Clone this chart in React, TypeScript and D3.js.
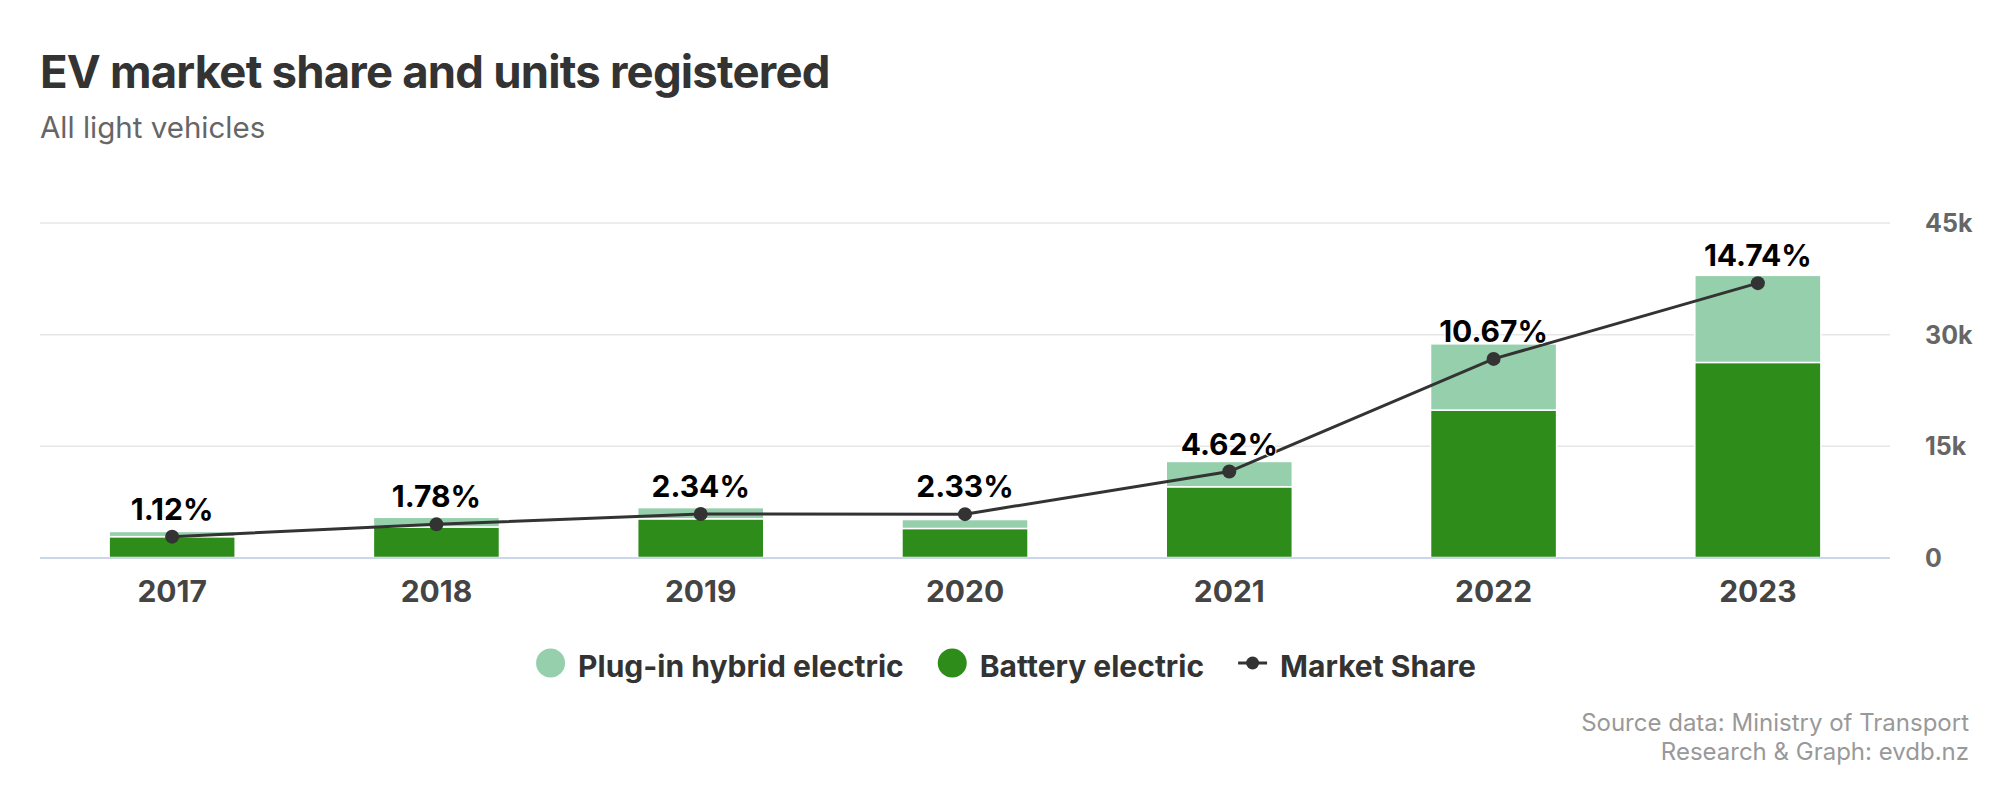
import React, { useRef, useEffect } from "react";
import * as d3 from "d3";

const years = ["2017", "2018", "2019", "2020", "2021", "2022", "2023"];
const batteryUnits = [2800, 4100, 5200, 3900, 9500, 19800, 26200];
const phevUnits = [700, 1300, 1500, 1200, 3400, 8900, 11700];
const marketShare = [1.12, 1.78, 2.34, 2.33, 4.62, 10.67, 14.74];
const unitTicks = [0, 15000, 30000, 45000];

const legendItems = [
  { name: "Plug-in hybrid electric", color: "#95cfab", kind: "bar" },
  { name: "Battery electric", color: "#2d8c1a", kind: "bar" },
  { name: "Market Share", color: "#333333", kind: "line" },
];

const FONT = "Inter, 'Noto Sans', sans-serif";

const App: React.FC = () => {
  const svgRef = useRef<SVGSVGElement>(null);

  useEffect(() => {
    if (!svgRef.current) return;
    document.body.style.margin = "0";

    const svg = d3.select(svgRef.current);
    svg.selectAll("*").remove();

    const width = 1994;
    const height = 786;
    const plot = { left: 40, right: 1890, top: 222.5, bottom: 557.5 };

    svg.attr("width", width).attr("height", height).style("font-family", FONT);

    svg.append("rect").attr("width", width).attr("height", height).attr("fill", "#fff");

    // title + subtitle
    svg.append("text")
      .attr("x", 40)
      .attr("y", 88)
      .attr("fill", "#333")
      .attr("font-size", 45.5)
      .attr("font-weight", 700)
      .attr("letter-spacing", -0.8)
      .text("EV market share and units registered");

    svg.append("text")
      .attr("x", 40)
      .attr("y", 138)
      .attr("fill", "#666")
      .attr("font-size", 29.5)
      .text("All light vehicles");

    const x = d3
      .scaleBand()
      .domain(years)
      .range([plot.left, plot.right])
      .paddingInner(0.523)
      .paddingOuter(0.2615);

    const y = d3.scaleLinear().domain([0, 45000]).range([plot.bottom, plot.top]);
    const yShare = d3.scaleLinear().domain([0, 18]).range([plot.bottom, plot.top]);

    // gridlines + right axis labels
    const yAxis = svg.append("g")
      .attr("transform", `translate(${plot.right}, 0)`)
      .call(
        d3.axisRight(y)
          .tickValues(unitTicks)
          .tickSize(-(plot.right - plot.left))
          .tickPadding(35)
          .tickFormat((d) => (+d === 0 ? "0" : `${+d / 1000}k`))
      );
    yAxis.select(".domain").remove();
    yAxis.selectAll(".tick line").attr("stroke", "#e6e6e6").attr("stroke-width", 1.5);
    yAxis.selectAll(".tick text")
      .attr("fill", "#666")
      .attr("font-size", 25)
      .attr("font-weight", 700)
      .attr("font-family", FONT)
      .attr("dy", "0.36em");

    // stacked bars
    const bars = svg.append("g");
    bars.selectAll("rect.bev")
      .data(years)
      .join("rect")
      .attr("class", "bev")
      .attr("x", (d) => x(d)!)
      .attr("width", x.bandwidth())
      .attr("y", (_, i) => y(batteryUnits[i]))
      .attr("height", (_, i) => y(0) - y(batteryUnits[i]))
      .attr("fill", legendItems[1].color)
      .attr("stroke", "#fff")
      .attr("stroke-width", 1.5);

    bars.selectAll("rect.phev")
      .data(years)
      .join("rect")
      .attr("class", "phev")
      .attr("x", (d) => x(d)!)
      .attr("width", x.bandwidth())
      .attr("y", (_, i) => y(batteryUnits[i] + phevUnits[i]))
      .attr("height", (_, i) => y(batteryUnits[i]) - y(batteryUnits[i] + phevUnits[i]))
      .attr("fill", legendItems[0].color)
      .attr("stroke", "#fff")
      .attr("stroke-width", 1.5);

    // baseline
    svg.append("line")
      .attr("x1", plot.left)
      .attr("x2", plot.right)
      .attr("y1", y(0) + 0.5)
      .attr("y2", y(0) + 0.5)
      .attr("stroke", "#ccd6eb")
      .attr("stroke-width", 2);

    // x axis labels
    const xAxis = svg.append("g")
      .attr("transform", `translate(0, ${plot.bottom})`)
      .call(d3.axisBottom(x).tickSize(0));
    xAxis.select(".domain").remove();
    xAxis.selectAll(".tick text")
      .attr("y", 44)
      .attr("dy", 0)
      .attr("fill", "#444")
      .attr("font-size", 30)
      .attr("font-weight", 700)
      .attr("font-family", FONT);

    // market share line
    const cx = (i: number) => x(years[i])! + x.bandwidth() / 2;
    const line = d3
      .line<number>()
      .x((_, i) => cx(i))
      .y((d) => yShare(d));

    svg.append("path")
      .datum(marketShare)
      .attr("fill", "none")
      .attr("stroke", "#333")
      .attr("stroke-width", 3)
      .attr("d", line);

    svg.append("g")
      .selectAll("circle")
      .data(marketShare)
      .join("circle")
      .attr("cx", (_, i) => cx(i))
      .attr("cy", (d) => yShare(d))
      .attr("r", 7)
      .attr("fill", "#333");

    svg.append("g")
      .selectAll("text")
      .data(marketShare)
      .join("text")
      .attr("x", (_, i) => cx(i))
      .attr("y", (d) => yShare(d) - 17)
      .attr("text-anchor", "middle")
      .attr("font-size", 30)
      .attr("font-weight", 700)
      .attr("fill", "#000")
      .attr("stroke", "#fff")
      .attr("stroke-width", 2)
      .attr("stroke-linejoin", "round")
      .attr("paint-order", "stroke")
      .text((d) => `${d.toFixed(2)}%`);

    // legend
    const legend = svg.append("g");
    const symbolW = 29;
    const symbolGap = 13;
    const itemGap = 34;
    let cursor = 0;
    legendItems.forEach((item) => {
      const g = legend.append("g").attr("transform", `translate(${cursor}, 0)`);
      if (item.kind === "bar") {
        g.append("circle").attr("cx", symbolW / 2).attr("cy", 0).attr("r", 14.5).attr("fill", item.color);
      } else {
        g.append("line")
          .attr("x1", 0)
          .attr("x2", symbolW)
          .attr("y1", 0)
          .attr("y2", 0)
          .attr("stroke", item.color)
          .attr("stroke-width", 3);
        g.append("circle").attr("cx", symbolW / 2).attr("cy", 0).attr("r", 6.5).attr("fill", item.color);
      }
      const t = g.append("text")
        .attr("x", symbolW + symbolGap)
        .attr("y", 14)
        .attr("font-size", 30)
        .attr("font-weight", 700)
        .attr("fill", "#333")
        .text(item.name);
      const tw = (t.node() as SVGTextElement).getComputedTextLength();
      cursor += symbolW + symbolGap + tw + itemGap;
    });
    const legendW = cursor - itemGap;
    legend.attr("transform", `translate(${1006 - legendW / 2}, 663)`);

    // credits
    const credits = ["Source data: Ministry of Transport", "Research & Graph: evdb.nz"];
    svg.append("g")
      .selectAll("text")
      .data(credits)
      .join("text")
      .attr("x", 1969)
      .attr("y", (_, i) => 731 + i * 29)
      .attr("text-anchor", "end")
      .attr("font-size", 24)
      .attr("fill", "#999")
      .text((d) => d);

    return () => {
      svg.selectAll("*").remove();
    };
  }, []);

  return <svg ref={svgRef} style={{ display: "block" }}></svg>;
};

export default App;
